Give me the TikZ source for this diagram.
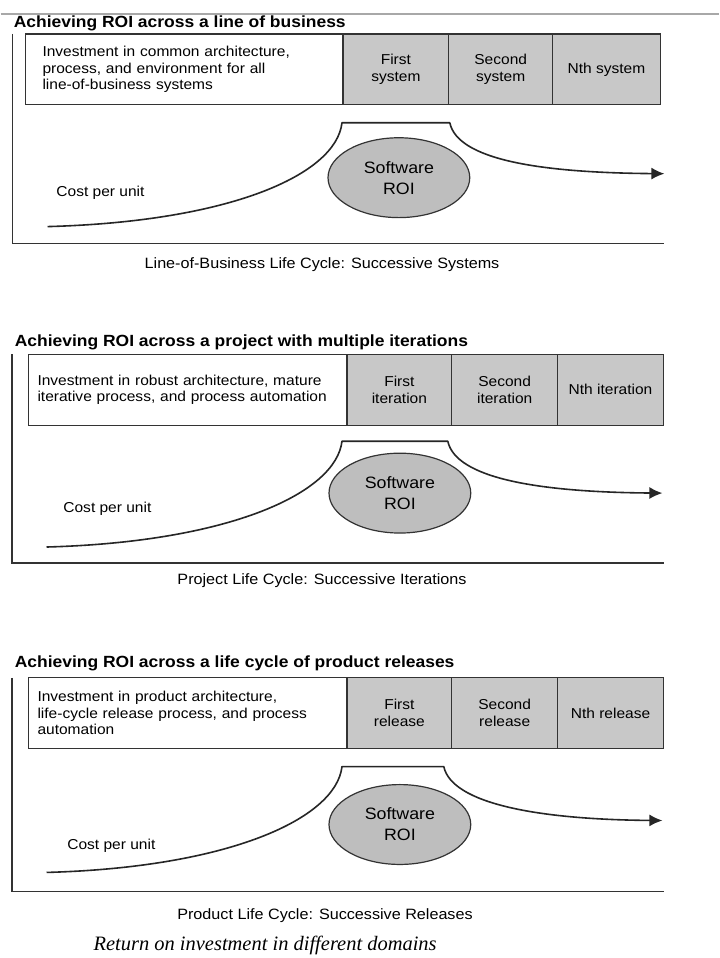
\documentclass[tikz,border=0pt]{standalone}
\usepackage{fontspec}
\setmainfont{Liberation Sans}[FakeStretch=1.08]
\newfontfamily\figcapfont{Liberation Serif}
\usetikzlibrary{positioning,shapes.geometric,arrows.meta}
\definecolor{cellgray}{HTML}{C8C8C8}
\definecolor{roigray}{HTML}{BEBEBE}
\definecolor{inkgray}{HTML}{333333}
\definecolor{rulegray}{HTML}{A8A8A8}

\begin{document}
\begin{tikzpicture}[x=1pt, y=-1pt,
    heading/.style={anchor=west, inner sep=0pt, font=\fontsize{16.2}{19}\selectfont\bfseries},
    invcell/.style={draw=inkgray, line width=1.2pt, anchor=north west, outer sep=0pt, minimum height=71pt, align=left, font=\fontsize{14.4}{16.5}\selectfont},
    stagecell/.style={draw=inkgray, fill=cellgray, line width=1.2pt, outer sep=0pt, minimum height=71pt, inner xsep=0pt, align=center, font=\fontsize{14.4}{17}\selectfont},
    roi/.style={ellipse, draw=inkgray, fill=roigray, line width=1.2pt, minimum width=142pt, minimum height=80pt, align=center, font=\fontsize{16.5}{21}\selectfont},
    costlabel/.style={font=\fontsize{14.4}{17}\selectfont},
    lifecap/.style={font=\fontsize{15}{18}\selectfont},
    frame/.style={draw=inkgray, line width=1.3pt},
    costcurve/.style={draw=black!85, line width=1.6pt, line join=round}]

    \fill[white] (0,0) rectangle (720,958);
    \draw[rulegray, line width=1.2pt] (0,14) -- (720,14);

    % line of business
    \node[heading] (title1) at (13,23) {Achieving ROI across a line of business};
    \node[invcell, text width=284pt, inner xsep=17pt] (inv1) at (25,34) {Investment in common architecture,\\process, and environment for all\\line-of-business systems};
    \node[stagecell, minimum width=106pt, right=0pt of inv1] (first1) {First\\system};
    \node[stagecell, minimum width=104pt, right=0pt of first1] (second1) {Second\\system};
    \node[stagecell, minimum width=108pt, right=0pt of second1] (nth1) {Nth system};
    \draw[frame] (12,34) -- (12,244) -- (665,244);
    \coordinate (a1) at (47,227);
    \coordinate (b1) at (342,123);
    \coordinate (c1) at (450,123);
    \coordinate (d1) at (665,174);
    \draw[costcurve, -{Latex[length=13pt, width=12pt]}] (a1) .. controls +(183,-5) and +(-6,52) .. (b1) -- (c1) .. controls +(8,37) and +(-125,-1) .. (d1);
    \node[roi] (roi1) at (399,178) {Software\\ROI};
    \node[costlabel] (cost1) at (100,193) {Cost per unit};
    \node[lifecap] (cap1) at (322,265) {Line-of-Business Life Cycle: Successive Systems};

    % project
    \node[heading] (title2) at (14,343) {Achieving ROI across a project with multiple iterations};
    \node[invcell, text width=301pt, inner xsep=9pt] (inv2) at (28,355) {Investment in robust architecture, mature\\iterative process, and process automation};
    \node[stagecell, minimum width=105pt, right=0pt of inv2] (first2) {First\\iteration};
    \node[stagecell, minimum width=106pt, right=0pt of first2] (second2) {Second\\iteration};
    \node[stagecell, minimum width=106pt, right=0pt of second2] (nth2) {Nth iteration};
    \draw[frame] (11.5,355) -- (11.5,564) -- (665,564);
    \coordinate (a2) at (46,548);
    \coordinate (b2) at (342,442);
    \coordinate (c2) at (448,442);
    \coordinate (d2) at (663,494);
    \draw[costcurve, -{Latex[length=13pt, width=12pt]}] (a2) .. controls +(183,-5) and +(-6,52) .. (b2) -- (c2) .. controls +(8,37) and +(-125,-1) .. (d2);
    \node[roi] (roi2) at (400,494) {Software\\ROI};
    \node[costlabel] (cost2) at (107,510) {Cost per unit};
    \node[lifecap] (cap2) at (322,582) {Project Life Cycle: Successive Iterations};

    % product releases
    \node[heading] (title3) at (14,665) {Achieving ROI across a life cycle of product releases};
    \node[invcell, text width=301pt, inner xsep=9pt] (inv3) at (28,679) {Investment in product architecture,\\life-cycle release process, and process\\automation};
    \node[stagecell, minimum width=105pt, right=0pt of inv3] (first3) {First\\release};
    \node[stagecell, minimum width=106pt, right=0pt of first3] (second3) {Second\\release};
    \node[stagecell, minimum width=106pt, right=0pt of second3] (nth3) {Nth release};
    \draw[frame] (11.5,679) -- (11.5,893) -- (665,893);
    \coordinate (a3) at (46,874);
    \coordinate (b3) at (342,768);
    \coordinate (c3) at (444,768);
    \coordinate (d3) at (663,822);
    \draw[costcurve, -{Latex[length=13pt, width=12pt]}] (a3) .. controls +(183,-5) and +(-6,52) .. (b3) -- (c3) .. controls +(8,37) and +(-125,-1) .. (d3);
    \node[roi] (roi3) at (400,826) {Software\\ROI};
    \node[costlabel] (cost3) at (111,847) {Cost per unit};
    \node[lifecap] (cap3) at (325,917) {Product Life Cycle: Successive Releases};

    \node[font=\figcapfont\itshape\fontsize{20.5}{23}\selectfont] (domains) at (265,947) {Return on investment in different domains};
\end{tikzpicture}
\end{document}
